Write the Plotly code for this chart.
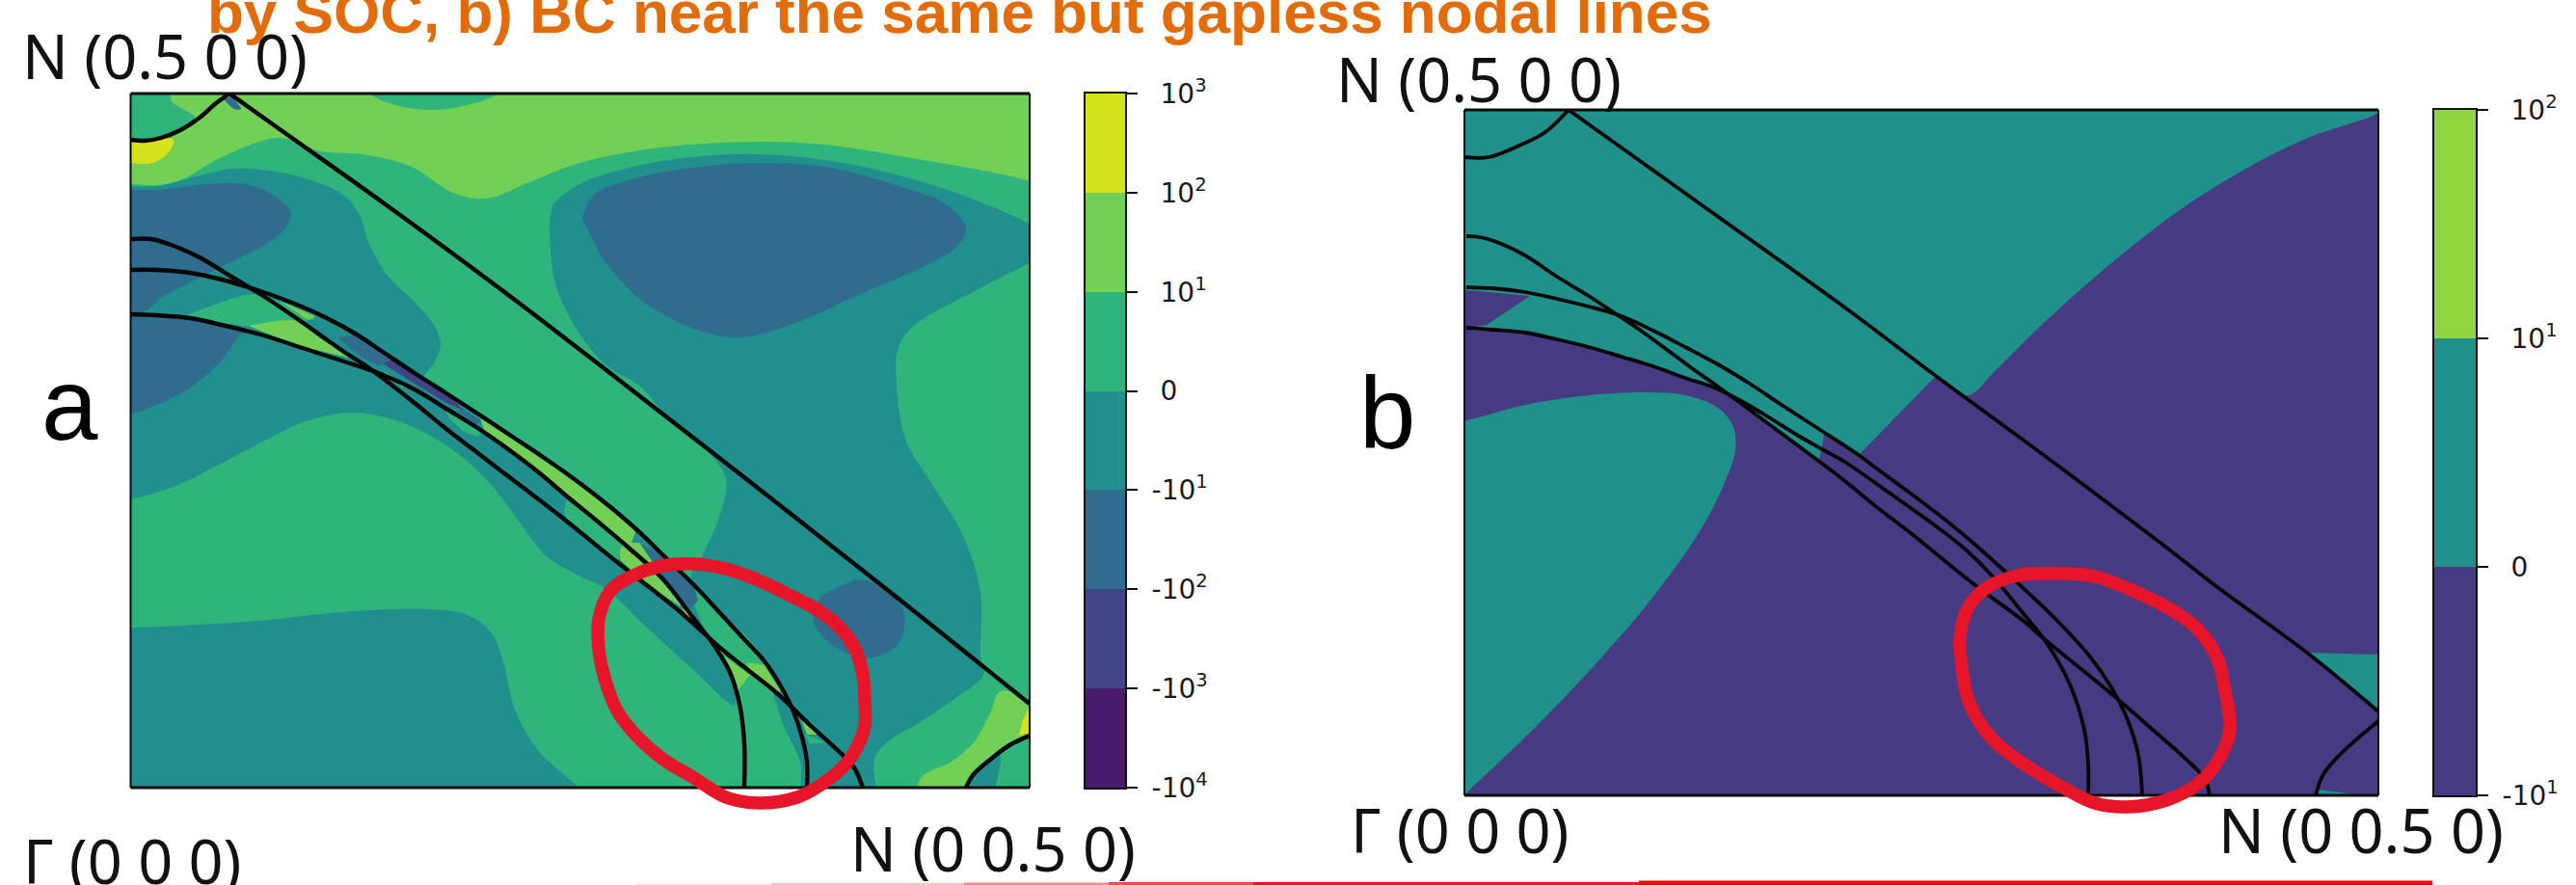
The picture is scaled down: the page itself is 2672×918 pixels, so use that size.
import plotly.graph_objects as go

W, H = 2672, 918
# Graph-paper frame of each panel (reading scale for the values below)
A_X0, A_X1, A_Y0, A_Y1 = 135.5, 1068, 97, 817
B_X0, B_X1, B_Y0, B_Y1 = 1519, 2467, 114, 825

# colour levels
A_LEVELS = ["-10<sup>4</sup>", "-10<sup>3</sup>", "-10<sup>2</sup>", "-10<sup>1</sup>", "0", "10<sup>1</sup>", "10<sup>2</sup>", "10<sup>3</sup>"]
B_LEVELS = ["-10<sup>1</sup>", "0", "10<sup>1</sup>", "10<sup>2</sup>"]
C_M4, C_M3, C_M2, C_M1, C_P0, C_P1, C_P2 = "#471c6b", "#414487", "#2f6c8e", "#218f8d", "#2fb47c", "#73d056", "#d6e21a"
A_BANDS = [C_M4, C_M3, C_M2, C_M1, C_P0, C_P1, C_P2]
B_PURPLE, B_TEAL, B_GREEN = "#463a82", "#20908b", "#8fd63f"
B_BANDS = [B_PURPLE, B_TEAL, B_GREEN]
RED = "#e6152a"

# ---- panel a: nodal lines ----
A_ARC_TOP = [(136,145),(150,146),(167,143),(187,135),(207,122),(223,108),(238,97)]
A_BZ = [(238,97),(290,134),(397,210),(530,308),(647,398),(750,478),(833,543),(913,606),(987,665),(1068,730)]
A_ARC_BR = [(1002,817),(1010,803),(1027,788),(1047,773),(1068,763)]
A_LINE1 = [(136,248),(157,248),(180,255),(207,267),(240,287),(273,307),(303,327),(330,346),(357,365),(383,382),(407,400),(430,418),(463,445),(497,471),(523,491),(547,509),(587,540),(640,583),(667,604),(707,636),(747,672),(777,696),(807,720),(840,752),(877,786),(887,798),(895,817)]
A_LINE2 = [(136,280),(163,280),(197,283),(230,290),(270,302),(303,314),(337,329),(370,347),(397,365),(430,387),(463,408),(497,430),(530,452),(563,474),(593,495),(627,521),(660,549),(687,575),(720,607),(747,636),(770,661),(793,686),(810,712),(823,738),(832,765),(837,790),(837,817)]
A_LINE3 = [(136,326),(163,327),(197,330),(230,337),(270,347),(317,362),(357,375),(390,386),(430,404),(463,424),(497,445),(530,468),(560,491),(587,514),(620,541),(653,569),(687,600),(713,633),(743,673),(757,697),(767,730),(772,770),(772,817)]

# ---- panel a: filled regions ----
A_BASE = [(130,90),(1075,90),(1075,825),(130,825)]
A_TOP_GREEN = [(130,90),(1080,90),(1080,195),(1068,188),(940,163),(855,150),(786,147),(684,153),(598,170),(547,190),(504,206),(470,200),(427,173),(376,160),(333,157),(290,143),(230,163),(187,187),(163,192),(130,190)]
A_NOTCH = [(375,85),(383,97),(407,108),(443,114),(480,110),(517,97),(525,85)]
A_CORNER = [(130,90),(176,90),(178,105),(202,122),(187,135),(167,143),(150,146),(130,146)]
A_YELLOW = [(130,147),(180,145),(177,155),(167,165),(153,170),(130,168)]
A_TINY_BLUE = [(232,103),(243,113),(250,113),(240,100)]
A_TEAL_LEFT = [(130,193),(163,193),(207,182),(243,175),(280,177),(323,187),(357,203),(373,223),(383,253),(403,287),(430,313),(450,337),(457,357),(450,377),(440,392),(463,408),(497,430),(563,473),(627,520),(683,573),(705,595),(733,657),(753,687),(763,725),(762,732),(717,693),(667,647),(627,610),(600,597),(567,577),(540,543),(513,507),(483,477),(443,450),(400,433),(363,428),(317,437),(263,463),(212,490),(180,505),(136,518),(130,520)]
A_TEAL_RIGHT = [(573,213),(583,203),(603,190),(630,180),(700,165),(786,160),(880,170),(983,197),(1068,232),(1080,240),(1080,268),(1068,273),(1009,303),(949,337),(932,360),(930,400),(940,458),(966,501),(1000,558),(1017,615),(1017,680),(1020,700),(987,727),(953,750),(920,770),(907,787),(905,830),(835,830),(830,790),(813,753),(803,723),(790,680),(760,647),(720,607),(717,597),(730,573),(747,533),(753,497),(733,467),(693,433),(663,400),(630,380),(597,340),(575,290),(570,230)]
A_TEAL_LOW = [(125,651),(136,651),(256,645),(342,636),(400,632),(443,632),(483,637),(510,657),(523,690),(533,733),(557,777),(600,817),(610,830),(125,830)]
A_BLUE_BIG = [(604,227),(615,203),(667,183),(735,172),(786,169),(855,173),(923,190),(983,213),(1002,237),(991,257),(957,277),(897,303),(820,337),(769,350),(726,343),(667,313),(624,267)]
A_BLUE_UP = [(125,197),(163,197),(197,193),(230,190),(263,193),(290,207),(302,223),(293,240),(270,257),(243,270),(203,290),(170,307),(150,323),(125,328)]
A_BLUE_LOW = [(125,327),(163,327),(197,331),(230,337),(257,342),(247,350),(227,377),(190,407),(157,422),(136,430),(125,434)]
A_BLUE_SMALL = [(887,601),(913,607),(937,633),(938,650),(930,670),(900,683),(877,677),(853,660),(843,640),(853,617)]
A_LOBE_GREEN = [(193,327),(220,317),(247,308),(270,305),(287,312),(327,330),(313,333),(263,338),(230,335)]
A_LOBE_LIGHT = [(258,338),(310,333),(327,347),(347,360),(370,373),(357,370),(317,360),(280,347)]
A_BR_LIGHT = [(948,825),(957,805),(987,790),(1010,770),(1027,740),(1038,717),(1075,735),(1075,760),(1047,773),(1027,788),(1010,803),(1000,825)]
A_BR_TEAL = [(1003,825),(1013,803),(1037,783),(1030,825)]
# thin slivers between the nodal lines (straight-sided)
A_S_LIGHT0 = [(290,312),(327,328),(320,332)]
A_S_YEL0 = [(363,370),(375,376),(372,378)]
A_S_BLUE1 = [(350,350),(370,347),(397,365),(407,373),(393,380),(370,367)]
A_S_DARK = [(397,377),(407,373),(430,387),(463,408),(483,427),(463,418),(430,398)]
A_S_BLUE2 = [(483,427),(500,437),(493,440),(473,425)]
A_S_LIGHT1 = [(397,385),(420,398),(418,402)]
A_S_GREEN1 = [(460,423),(483,437),(500,448),(495,453),(480,447),(467,435)]
A_S_BAND = [(498,434),(530,452),(563,474),(593,495),(627,521),(660,549),(653,569),(620,541),(587,514),(560,491),(530,468),(503,448)]
A_S_GREEN2 = [(588,518),(653,570),(643,577),(640,582),(587,537),(585,530)]
A_S_BLUE3 = [(665,565),(690,577),(720,607),(724,623),(715,632),(700,613),(685,597)]
A_S_LIGHT2 = [(648,563),(663,563),(687,597),(708,630),(687,617),(660,597),(643,580),(643,570)]
A_S_GREEN3 = [(743,633),(737,650),(750,677),(777,687),(793,690),(777,663),(760,647)]
A_S_YEL1 = [(707,630),(720,640),(750,677),(747,682),(733,663),(717,645)]
A_S_LIGHT3 = [(750,680),(778,700),(765,717),(760,700)]
A_S_LIGHT4 = [(775,687),(793,690),(810,717),(805,720),(777,700)]
A_S_YEL2 = [(810,717),(827,740),(828,747),(817,730)]
A_S_LIGHT5 = [(830,743),(850,762),(837,762)]
A_S_GREEN4 = [(835,762),(857,770),(840,772)]
A_S_YEL3 = [(1068,733),(1061,747),(1057,763),(1068,760)]
A_RING = [(720,585),(753,590),(787,602),(820,618),(847,632),(870,650),(887,673),(895,700),(897,727),(897,753),(888,777),(877,793),(853,813),(827,827),(787,833),(753,827),(720,807),(687,787),(660,763),(640,737),(627,703),(621,673),(621,643),(633,613),(657,597),(687,587),(720,585)]

# ---- panel b ----
B_ARC_TOP = [(1519,163),(1544,163),(1578,150),(1603,137),(1627,114)]
B_BZ = [(1627,114),(1767,214),(1915,320),(2008,390),(2109,464),(2237,560),(2300,609),(2393,677),(2467,738)]
B_ARC_BR = [(2402,825),(2410,803),(2430,780),(2467,748)]
B_LINE1 = [(1521,245),(1535,246),(1555,252),(1582,265),(1615,287),(1648,307),(1675,325),(1702,343),(1728,362),(1755,382),(1782,401),(1808,420),(1835,440),(1862,460),(1885,477),(1915,500),(1948,527),(1982,553),(2015,580),(2050,608),(2100,645),(2123,665),(2187,717),(2233,757),(2267,787),(2287,808),(2292,825)]
B_LINE2 = [(1521,298),(1548,299),(1582,303),(1615,310),(1648,318),(1682,328),(1715,343),(1748,360),(1782,378),(1815,398),(1848,420),(1882,442),(1928,472),(1948,487),(1982,512),(2015,537),(2043,560),(2080,593),(2133,643),(2167,680),(2190,713),(2207,747),(2218,783),(2222,825)]
B_LINE3 = [(1521,340),(1548,342),(1582,345),(1615,352),(1648,360),(1682,370),(1715,380),(1748,392),(1778,402),(1808,417),(1835,433),(1862,450),(1890,466),(1915,480),(1948,503),(1982,527),(2015,551),(2040,571),(2067,598),(2100,638),(2123,667),(2147,710),(2162,757),(2166,793),(2166,825)]
B_BASE = [(1510,105),(2475,105),(2475,835),(1510,835)]
B_TEAL_RIGHT = [(1620,105),(2480,105),(2467,117),(2394,143),(2326,177),(2258,220),(2190,273),(2122,333),(2071,383),(2041,410),(2008,390),(1915,320),(1848,273),(1767,214),(1627,114)]
B_TEAL_LEFT = [(1510,105),(1627,105),(1627,114),(1767,214),(1915,320),(2008,390),(1928,472),(1892,449),(1890,463),(1887,477),(1862,460),(1835,440),(1808,420),(1782,401),(1748,392),(1715,380),(1682,370),(1648,360),(1615,352),(1582,345),(1548,342),(1521,340),(1510,340)]
B_WEDGE = [(1510,300),(1587,307),(1542,337),(1510,342)]
B_ISLAND = [(1505,438),(1521,436),(1582,420),(1648,410),(1708,407),(1748,410),(1782,423),(1798,443),(1800,467),(1790,498),(1765,548),(1714,620),(1663,680),(1595,752),(1523,821),(1505,840)]
B_RIGHT_TRI = [(2395,677),(2470,679),(2470,740)]
B_LOW_TRI = [(2405,819),(2450,825),(2405,825)]
B_RING = [(2140,595),(2173,598),(2213,613),(2253,633),(2280,653),(2300,683),(2308,717),(2313,757),(2300,790),(2280,813),(2247,830),(2207,837),(2173,833),(2140,817),(2100,793),(2067,767),(2043,730),(2035,693),(2033,663),(2040,633),(2060,610),(2093,597),(2140,595)]

TITLE = "by SOC, b) BC near the same but gapless nodal lines"
LABELS = [("N (0.5 0 0)", 21, 58), ("Γ (0 0 0)", 22, 892), ("N (0 0.5 0)", 880, 879),
          ("N (0.5 0 0)", 1384, 82), ("Γ (0 0 0)", 1399, 860), ("N (0 0.5 0)", 2299, 860)]

def to_k(pts, frame):
    x0, x1, y0, y1 = frame
    return ([(p[0] - x0) / (x1 - x0) * 0.5 for p in pts],
            [(y1 - p[1]) / (y1 - y0) * 0.5 for p in pts])

FA = (A_X0, A_X1, A_Y0, A_Y1)
FB = (B_X0, B_X1, B_Y0, B_Y1)
fig = go.Figure()

def fill(pts, color, frame, ax, smooth=True):
    x, y = to_k(pts, frame)
    fig.add_trace(go.Scatter(x=x, y=y, xaxis="x" + ax, yaxis="y" + ax, mode="lines", fill="toself",
                             fillcolor=color, hoverinfo="skip", showlegend=False,
                             line=dict(width=0, color=color, shape="spline" if smooth else "linear", smoothing=1)))

def line(pts, frame, ax, width, color="#050505", smooth=True):
    x, y = to_k(pts, frame)
    fig.add_trace(go.Scatter(x=x, y=y, xaxis="x" + ax, yaxis="y" + ax, mode="lines",
                             hoverinfo="skip", showlegend=False,
                             line=dict(width=width, color=color, shape="spline" if smooth else "linear", smoothing=1)))

# panel a
fill(A_BASE, C_P0, FA, "", smooth=False)
for pts, c in [(A_TOP_GREEN, C_P1), (A_NOTCH, C_P0), (A_CORNER, C_P0), (A_YELLOW, C_P2), (A_TINY_BLUE, C_M2),
               (A_TEAL_LEFT, C_M1), (A_TEAL_RIGHT, C_M1), (A_TEAL_LOW, C_M1), (A_BLUE_BIG, C_M2), (A_BLUE_UP, C_M2),
               (A_BLUE_LOW, C_M2), (A_BLUE_SMALL, C_M2), (A_LOBE_GREEN, C_P0), (A_LOBE_LIGHT, C_P1),
               (A_BR_LIGHT, C_P1), (A_BR_TEAL, C_M1)]:
    fill(pts, c, FA, "")
for pts, c in [(A_S_LIGHT0, C_P1), (A_S_YEL0, C_P2), (A_S_BLUE1, C_M2), (A_S_DARK, C_M3), (A_S_BLUE2, C_M2),
               (A_S_LIGHT1, C_P1), (A_S_GREEN1, C_P0), (A_S_BAND, C_P1), (A_S_GREEN2, C_P0), (A_S_BLUE3, C_M2),
               (A_S_LIGHT2, C_P1), (A_S_GREEN3, C_P0), (A_S_LIGHT3, C_P1), (A_S_LIGHT4, C_P1), (A_S_YEL1, C_P2),
               (A_S_YEL2, C_P2), (A_S_LIGHT5, C_P1), (A_S_GREEN4, C_P0), (A_S_YEL3, C_P2)]:
    fill(pts, c, FA, "", smooth=False)
for pts in [A_ARC_TOP, A_BZ, A_ARC_BR, A_LINE1, A_LINE2, A_LINE3]:
    line(pts, FA, "", 4.4)

# panel b
fill(B_BASE, B_PURPLE, FB, "2", smooth=False)
fill(B_TEAL_RIGHT, B_TEAL, FB, "2")
fill(B_TEAL_LEFT, B_TEAL, FB, "2", smooth=False)
fill(B_WEDGE, B_PURPLE, FB, "2", smooth=False)
fill(B_ISLAND, B_TEAL, FB, "2")
fill(B_RIGHT_TRI, B_TEAL, FB, "2", smooth=False)
fill(B_LOW_TRI, B_TEAL, FB, "2", smooth=False)
for pts in [B_ARC_TOP, B_BZ, B_ARC_BR, B_LINE1, B_LINE2, B_LINE3]:
    line(pts, FB, "2", 3.8)

# colour bars
for i, c in enumerate(A_BANDS):
    fig.add_trace(go.Bar(x=[0], y=[1], base=[i], width=[1], marker=dict(color=c, line=dict(width=0)),
                         xaxis="x3", yaxis="y3", hoverinfo="skip", showlegend=False))
for i, c in enumerate(B_BANDS):
    fig.add_trace(go.Bar(x=[0], y=[1], base=[i], width=[1], marker=dict(color=c, line=dict(width=0)),
                         xaxis="x4", yaxis="y4", hoverinfo="skip", showlegend=False))

# frames and hand-drawn rings: on full-page overlay axes that share each panel's scale,
# so they can run past the panel edge without being clipped
for ax, frame, ring in [("5", FA, A_RING), ("6", FB, B_RING)]:
    for xs, ys, w in [([0, 0], [0, 0.5], 2), ([0.5, 0.5], [0, 0.5], 2), ([0, 0.5], [0, 0], 3.2), ([0, 0.5], [0.5, 0.5], 3.2)]:
        fig.add_trace(go.Scatter(x=xs, y=ys, xaxis="x" + ax, yaxis="y" + ax, mode="lines",
                                 hoverinfo="skip", showlegend=False, line=dict(width=w, color="#0a0a0a")))
    line(ring, frame, ax, 13.5, RED)

def pad(t):
    return t if t.startswith("-") else "\u00a0" + t

hidden = dict(showgrid=False, zeroline=False, showticklabels=False, ticks="", showline=False)
def px_x(a, b): return [a / W, b / W]
def px_y(a, b): return [1 - b / H, 1 - a / H]
def page_range_x(f): return [(0 - f[0]) / (f[1] - f[0]) * 0.5, (W - f[0]) / (f[1] - f[0]) * 0.5]
def page_range_y(f): return [(f[3] - H) / (f[3] - f[2]) * 0.5, (f[3] - 0) / (f[3] - f[2]) * 0.5]

cb_tick = dict(side="right", showgrid=False, zeroline=False, ticks="outside", ticklen=11, tickwidth=2, tickcolor="#111",
               showline=True, linewidth=2, linecolor="#111", mirror=True, ticklabelstandoff=9,
               tickfont=dict(family="DejaVu Sans", size=28, color="#1a1a1a"), tickmode="array")

fig.update_layout(
    width=W, height=H, margin=dict(l=0, r=0, t=0, b=0, pad=0, autoexpand=False), paper_bgcolor="white", plot_bgcolor="rgba(0,0,0,0)",
    barmode="overlay", bargap=0, showlegend=False,
    xaxis=dict(domain=px_x(A_X0, A_X1), range=[0, 0.5], **hidden),
    yaxis=dict(domain=px_y(A_Y0, A_Y1), range=[0, 0.5], **hidden),
    xaxis2=dict(domain=px_x(B_X0, B_X1), range=[0, 0.5], anchor="y2", **hidden),
    yaxis2=dict(domain=px_y(B_Y0, B_Y1), range=[0, 0.5], anchor="x2", **hidden),
    xaxis3=dict(domain=px_x(1126, 1167), range=[-0.5, 0.5], anchor="y3", showgrid=False, zeroline=False, showticklabels=False, showline=True, linewidth=2, linecolor="#111", mirror=True),
    yaxis3=dict(domain=px_y(A_Y0, A_Y1), range=[0, len(A_BANDS)], anchor="x3", tickvals=list(range(len(A_LEVELS))), ticktext=[pad(t) for t in A_LEVELS], **cb_tick),
    xaxis4=dict(domain=px_x(2525, 2568), range=[-0.5, 0.5], anchor="y4", showgrid=False, zeroline=False, showticklabels=False, showline=True, linewidth=2, linecolor="#111", mirror=True),
    yaxis4=dict(domain=px_y(B_Y0, B_Y1), range=[0, len(B_BANDS)], anchor="x4", tickvals=list(range(len(B_LEVELS))), ticktext=[pad(t) for t in B_LEVELS], **cb_tick),
    xaxis5=dict(domain=[0, 1], range=page_range_x(FA), anchor="y5", **hidden),
    yaxis5=dict(domain=[0, 1], range=page_range_y(FA), anchor="x5", **hidden),
    xaxis6=dict(domain=[0, 1], range=page_range_x(FB), anchor="y6", **hidden),
    yaxis6=dict(domain=[0, 1], range=page_range_y(FB), anchor="x6", **hidden),
)

ann = [dict(text="<b>" + TITLE + "</b>", x=213 / W, y=1 - 49 / H, xref="paper", yref="paper", xanchor="left", yanchor="bottom", showarrow=False,
            font=dict(family="Liberation Sans", size=62, color="#e36c0a"))]
for t, x, y in LABELS:
    ann.append(dict(text=t, x=x / W, y=1 - y / H, xref="paper", yref="paper", xanchor="left", yanchor="middle", showarrow=False,
                    font=dict(family="Noto Sans", size=63, color="#111")))
ann.append(dict(text="a", x=41 / W, y=1 - 420 / H, xref="paper", yref="paper", xanchor="left", yanchor="middle", showarrow=False,
                font=dict(family="Liberation Sans", size=105, color="#000")))
ann.append(dict(text="b", x=1408 / W, y=1 - 428 / H, xref="paper", yref="paper", xanchor="left", yanchor="middle", showarrow=False,
                font=dict(family="Liberation Sans", size=105, color="#000")))
fig.update_layout(annotations=ann)

# red arrow shaft along the bottom edge, fading in from the left
shapes = []
for x0, x1, top, c in [(660, 800, 916, "#fdeaea"), (800, 1000, 916, "#fcc4c4"), (1000, 1150, 915.5, "#fb8a8a"),
                       (1150, 1300, 915, "#fa4a4a"), (1300, 1700, 915, "#ff1010"), (1700, 2523, 913.5, "#ff0000")]:
    shapes.append(dict(type="rect", xref="paper", yref="paper", x0=x0 / W, x1=x1 / W, y0=0, y1=1 - top / H,
                       fillcolor=c, line=dict(width=0)))
fig.update_layout(shapes=shapes)

fig.write_html("out.html", config={"displayModeBar": False}, post_script="document.body.style.margin='0';")
